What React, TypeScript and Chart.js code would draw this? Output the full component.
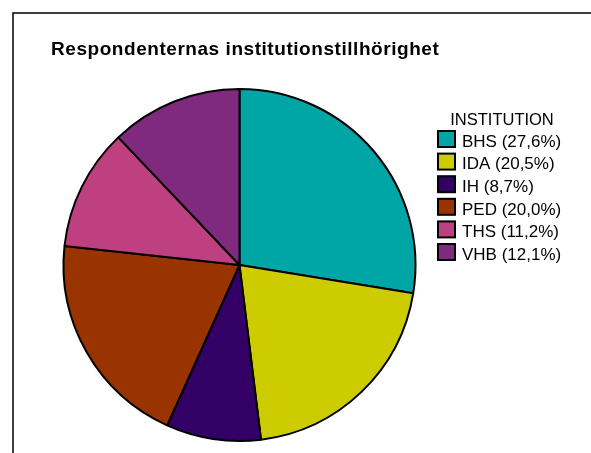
import React, { useEffect, useRef } from "react";
import { Chart, registerables } from "chart.js";

Chart.register(...registerables);

const chartTitle = "Respondenternas institutionstillhörighet";
const legendTitle = "INSTITUTION";
const categories = ["BHS", "IDA", "IH", "PED", "THS", "VHB"];
const percentages = [27.6, 20.5, 8.7, 20.0, 11.2, 12.1];
const colors = ["#00A6A6", "#CCCC00", "#330066", "#993300", "#BF4080", "#7F2A7F"];

const fmt = (v: number) => v.toFixed(1).replace(".", ",");
const legendLabels = categories.map((c, i) => `${c} (${fmt(percentages[i])}%)`);

const decorPlugin = {
  id: "decor",
  afterDraw(chart: any) {
    const ctx = chart.ctx as CanvasRenderingContext2D;
    ctx.save();
    // frame
    ctx.strokeStyle = "#000";
    ctx.lineWidth = 1.5;
    ctx.strokeRect(13, 13, 620, 480);
    // title
    ctx.fillStyle = "#000";
    ctx.textAlign = "left";
    ctx.textBaseline = "alphabetic";
    ctx.font = "bold 19px 'Liberation Sans', Arial, sans-serif";
    (ctx as any).letterSpacing = "0.55px";
    ctx.fillText(chartTitle, 51, 54.5);
    // legend title
    (ctx as any).letterSpacing = "0px";
    ctx.font = "16.5px 'Liberation Sans', Arial, sans-serif";
    ctx.textAlign = "center";
    ctx.fillText(legendTitle, 502, 125);
    // legend items
    ctx.textAlign = "left";
    ctx.font = "17px 'Liberation Sans', Arial, sans-serif";
    legendLabels.forEach((label, i) => {
      const top = 131 + i * 22.6;
      ctx.fillStyle = colors[i];
      ctx.fillRect(438, top, 17, 16);
      ctx.strokeStyle = "#000";
      ctx.lineWidth = 2;
      ctx.strokeRect(438, top, 17, 16);
      ctx.fillStyle = "#000";
      ctx.fillText(label, 462, top + 15.7);
    });
    ctx.restore();
  },
};

export default function App() {
  const ref = useRef<HTMLCanvasElement>(null);
  useEffect(() => {
    if (!ref.current) return;
    const chart = new Chart(ref.current, {
      type: "pie",
      data: {
        labels: categories,
        datasets: [
          {
            data: percentages,
            backgroundColor: colors,
            borderColor: "#000",
            borderWidth: 2,
            radius: 176,
          } as any,
        ],
      },
      options: {
        responsive: false,
        animation: false,
        layout: { padding: { left: 0, right: 112, top: 77, bottom: 0 } },
        plugins: {
          legend: { display: false },
          title: { display: false },
          tooltip: { enabled: false },
        },
      },
      plugins: [decorPlugin],
    });
    return () => chart.destroy();
  }, []);
  return (
    <div style={{ position: "fixed", left: 0, top: 0, width: 591, height: 453, background: "#fff" }}>
      <canvas ref={ref} width={591} height={453} style={{ width: 591, height: 453 }} />
    </div>
  );
}
